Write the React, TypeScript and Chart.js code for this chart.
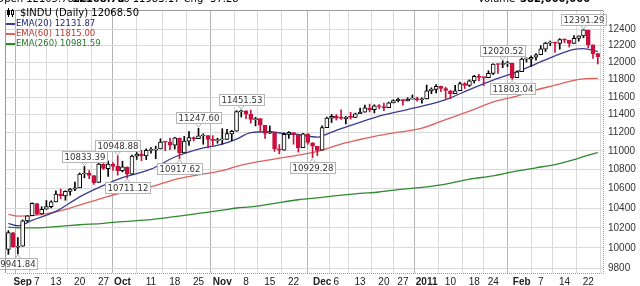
import React, { useEffect, useRef } from 'react';
import { Chart, registerables } from 'chart.js';
Chart.register(...registerables);

const dates = [
  '2010-08-27','2010-08-30','2010-08-31',
  '2010-09-01','2010-09-02','2010-09-03','2010-09-07','2010-09-08','2010-09-09','2010-09-10','2010-09-13','2010-09-14','2010-09-15','2010-09-16','2010-09-17','2010-09-20','2010-09-21','2010-09-22','2010-09-23','2010-09-24','2010-09-27','2010-09-28','2010-09-29','2010-09-30',
  '2010-10-01','2010-10-04','2010-10-05','2010-10-06','2010-10-07','2010-10-08','2010-10-11','2010-10-12','2010-10-13','2010-10-14','2010-10-15','2010-10-18','2010-10-19','2010-10-20','2010-10-21','2010-10-22','2010-10-25','2010-10-26','2010-10-27','2010-10-28','2010-10-29',
  '2010-11-01','2010-11-02','2010-11-03','2010-11-04','2010-11-05','2010-11-08','2010-11-09','2010-11-10','2010-11-11','2010-11-12','2010-11-15','2010-11-16','2010-11-17','2010-11-18','2010-11-19','2010-11-22','2010-11-23','2010-11-24','2010-11-26','2010-11-29','2010-11-30',
  '2010-12-01','2010-12-02','2010-12-03','2010-12-06','2010-12-07','2010-12-08','2010-12-09','2010-12-10','2010-12-13','2010-12-14','2010-12-15','2010-12-16','2010-12-17','2010-12-20','2010-12-21','2010-12-22','2010-12-23','2010-12-27','2010-12-28','2010-12-29','2010-12-30','2010-12-31',
  '2011-01-03','2011-01-04','2011-01-05','2011-01-06','2011-01-07','2011-01-10','2011-01-11','2011-01-12','2011-01-13','2011-01-14','2011-01-18','2011-01-19','2011-01-20','2011-01-21','2011-01-24','2011-01-25','2011-01-26','2011-01-27','2011-01-28','2011-01-31',
  '2011-02-01','2011-02-02','2011-02-03','2011-02-04','2011-02-07','2011-02-08','2011-02-09','2011-02-10','2011-02-11','2011-02-14','2011-02-15','2011-02-16','2011-02-17','2011-02-18','2011-02-22','2011-02-23','2011-02-24'
];

const opens = [
  9986, 10149, 10006,
  10016, 10270, 10321, 10446, 10339, 10388, 10415, 10463, 10543, 10525, 10571, 10595, 10608, 10754, 10761, 10738, 10664, 10860, 10811, 10857, 10836,
  10789, 10828, 10752, 10943, 10967, 10946, 11006, 11009, 11022, 11095, 11095, 11062, 11140, 10980, 11108, 11146, 11134, 11163, 11167, 11128, 11112,
  11121, 11125, 11187, 11216, 11433, 11443, 11405, 11344, 11355, 11281, 11194, 11200, 11023, 11010, 11180, 11201, 11176, 11037, 11186, 11090, 11050,
  11010, 11255, 11361, 11381, 11363, 11356, 11373, 11370, 11410, 11429, 11475, 11456, 11499, 11492, 11480, 11533, 11558, 11570, 11556, 11576, 11583, 11569,
  11577, 11671, 11688, 11722, 11697, 11672, 11638, 11673, 11755, 11732, 11784, 11836, 11823, 11822, 11873, 11979, 11977, 11985, 11990, 11824,
  11893, 12041, 12039, 12063, 12092, 12160, 12232, 12238, 12227, 12272, 12266, 12228, 12287, 12318, 12389, 12211, 12105
];

const highs = [
  10171, 10155, 10101,
  10279, 10321, 10454, 10446, 10413, 10477, 10474, 10578, 10596, 10578, 10603, 10668, 10765, 10833.39, 10791, 10738, 10870, 10865, 10892, 10875, 10948.88,
  10890, 10830, 10957, 10983, 11008, 11024, 11036, 11053, 11133, 11100, 11140, 11150, 11141, 11159, 11213, 11154, 11247.60, 11188, 11167, 11167, 11140,
  11244, 11237, 11226, 11445, 11451.53, 11443, 11452, 11370, 11355, 11281, 11274, 11200, 11070, 11198, 11212, 11201, 11176, 11194, 11186, 11090, 11050,
  11276, 11372, 11402, 11402, 11454, 11382, 11427, 11418, 11474, 11508, 11519, 11512, 11513, 11531, 11542, 11568, 11588, 11570, 11592, 11623, 11599, 11591,
  11737, 11705, 11743, 11725, 11712, 11675, 11734, 11772, 11765, 11797, 11850, 11863, 11823, 11903, 11986, 11984, 12020.52, 12012, 11994, 11903,
  12054, 12056, 12079, 12106, 12201, 12242, 12256, 12245, 12286, 12284, 12266, 12322, 12319, 12391.29, 12389, 12211, 12111
];

const lows = [
  9937, 10008, 9941.84,
  10016, 10259, 10321, 10333, 10339, 10388, 10400, 10463, 10497, 10480, 10531, 10578, 10608, 10713, 10705, 10645, 10664, 10802, 10728, 10791, 10741,
  10775, 10711.12, 10752, 10909, 10896, 10907, 10977, 10917, 11022, 11004, 11013, 11021, 10917.62, 10980, 11060, 11108, 11134, 11073, 11032, 11061, 11085,
  11074, 11125, 11113, 11216, 11374, 11355, 11305, 11275, 11214, 11137, 11189, 10995, 10970, 11010, 11137, 11073, 10988, 11037, 11073, 10929.28, 10950,
  11010, 11255, 11312, 11340, 11348, 11297, 11350, 11367, 11410, 11429, 11431, 11420, 11469, 11444, 11480, 11533, 11543, 11506, 11555, 11576, 11553, 11531,
  11577, 11638, 11647, 11662, 11584, 11580, 11638, 11673, 11697, 11720, 11760, 11788, 11731, 11822, 11859, 11873, 11940, 11953, 11803.04, 11824,
  11893, 12005, 11954, 12029, 12092, 12131, 12202, 12119, 12158, 12236, 12184, 12228, 12255, 12296, 12176, 12048, 11983
];

const closes = [
  10150.65, 10009.73, 10014.72,
  10269.47, 10320.10, 10447.93, 10340.69, 10387.01, 10415.24, 10462.77, 10544.13, 10526.49, 10572.73, 10594.83, 10607.85, 10753.62, 10761.03, 10739.31, 10662.42, 10860.26, 10812.04, 10858.14, 10835.28, 10788.05,
  10829.68, 10751.27, 10944.72, 10967.65, 10948.58, 11006.48, 11010.34, 11020.40, 11096.08, 11094.57, 11062.78, 11143.69, 10978.62, 11107.97, 11146.57, 11132.56, 11164.05, 11169.46, 11126.28, 11113.95, 11118.49,
  11124.62, 11188.72, 11215.13, 11434.84, 11444.08, 11406.84, 11346.75, 11357.04, 11283.10, 11192.58, 11201.97, 11023.50, 11007.88, 11181.23, 11203.55, 11178.58, 11036.37, 11187.28, 11092.00, 11052.49, 11006.02,
  11255.78, 11362.41, 11382.09, 11362.19, 11359.16, 11372.48, 11370.06, 11410.32, 11428.56, 11476.54, 11457.47, 11499.25, 11491.91, 11478.13, 11533.16, 11559.49, 11573.49, 11555.03, 11575.54, 11585.38, 11569.71, 11577.51,
  11670.75, 11691.18, 11722.89, 11697.31, 11674.76, 11637.45, 11671.88, 11755.44, 11731.90, 11787.38, 11837.93, 11825.29, 11822.80, 11871.84, 11980.52, 11977.19, 11985.44, 11989.83, 11823.70, 11891.93,
  12040.16, 12041.97, 12062.26, 12092.15, 12161.63, 12233.15, 12239.89, 12229.29, 12273.26, 12268.19, 12226.64, 12288.17, 12318.14, 12391.25, 12212.79, 12105.78, 12068.50
];

const emaDates = ['2010-08-27','2010-08-31','2010-09-03','2010-09-13','2010-09-20','2010-09-27','2010-10-01','2010-10-11','2010-10-18','2010-10-25','2010-11-01','2010-11-04','2010-11-09','2010-11-15','2010-11-18','2010-11-23','2010-11-30','2010-12-01','2010-12-07','2010-12-13','2010-12-17','2010-12-23','2010-12-31','2011-01-07','2011-01-14','2011-01-24','2011-01-31','2011-02-04','2011-02-10','2011-02-16','2011-02-18','2011-02-24'];
const ema20 = [10245, 10220, 10275, 10365, 10515, 10635, 10715, 10805, 10935, 11020, 11075, 11130, 11200, 11210, 11190, 11180, 11150, 11165, 11245, 11315, 11385, 11435, 11495, 11570, 11685, 11795, 11890, 11985, 12080, 12155, 12165, 12131.87];
const ema60 = [10335, 10318, 10322, 10360, 10430, 10505, 10560, 10620, 10695, 10745, 10790, 10835, 10870, 10905, 10930, 10955, 10995, 11010, 11075, 11125, 11170, 11205, 11250, 11345, 11440, 11545, 11610, 11680, 11735, 11790, 11808, 11815.00];
const ema260 = [10205, 10200, 10198, 10212, 10230, 10245, 10262, 10282, 10312, 10345, 10378, 10400, 10412, 10440, 10463, 10485, 10505, 10510, 10532, 10550, 10565, 10590, 10614, 10648, 10700, 10734, 10786, 10820, 10854, 10906, 10940, 10981.59];

const yTicks = [9800, 10000, 10200, 10400, 10600, 10800, 11000, 11200, 11400, 11600, 11800, 12000, 12200, 12400];
const xTickDates = ['2010-09-01','2010-09-07','2010-09-13','2010-09-20','2010-09-27','2010-10-01','2010-10-11','2010-10-18','2010-10-25','2010-11-01','2010-11-08','2010-11-15','2010-11-22','2010-12-01','2010-12-06','2010-12-13','2010-12-20','2010-12-27','2011-01-03','2011-01-10','2011-01-18','2011-01-24','2011-02-01','2011-02-07','2011-02-14','2011-02-22'];
const xTickLabels = ['Sep','7','13','20','27','Oct','11','18','25','Nov','8','15','22','Dec','6','13','20','27','2011','10','18','24','Feb','7','14','22'];
const monthLabels = ['Sep','Oct','Nov','Dec','2011','Feb'];

const noteDates = ['2010-08-31','2010-09-21','2010-09-30','2010-10-04','2010-10-19','2010-10-25','2010-11-05','2010-11-29','2011-01-26','2011-01-28','2011-02-18'];
const noteValues = [9941.84, 10833.39, 10948.88, 10711.12, 10917.62, 11247.60, 11451.53, 10929.28, 12020.52, 11803.04, 12391.29];
const noteSides = ['below','above','above','below','below','above','above','below','above','below','above'];

const legendTitle = '$INDU (Daily) 12068.50';
const legendNames = ['EMA(20) 12131.87', 'EMA(60) 11815.00', 'EMA(260) 10981.59'];
const headerParts = ['24-Feb-2011 Open 12105.78 Hi', '12168.75', 'Lo 11983.17 Chg -37.28', 'Volume', '382,000,000'];

const RED = '#c8103c';
const EMA_COLORS = ['#3b3b8f', '#e0605a', '#2f8a2f'];
const EMA_TEXT = ['#1f2670', '#c43a30', '#2a7a2a'];

function candleColor(i: number) {
  const prev = i === 0 ? opens[0] : closes[i - 1];
  return closes[i] >= prev ? '#000000' : RED;
}
function candleFill(i: number) {
  return closes[i] > opens[i] ? '#ffffff' : candleColor(i);
}

const overlayPlugin = {
  id: 'overlay',
  afterDatasetsDraw(chart: any) {
    const { ctx, scales } = chart;
    const x = scales.x, y = scales.y;
    ctx.save();
    ctx.font = '9.5px "Liberation Sans Narrow", "DejaVu Sans Condensed", "Liberation Sans", Arial';
    ctx.lineWidth = 1;
    noteDates.forEach((d, k) => {
      const px = x.getPixelForValue(dates.indexOf(d));
      const py = y.getPixelForValue(noteValues[k]);
      const text = noteValues[k].toFixed(2);
      const w = Math.round(ctx.measureText(text).width) + 4;
      const h = 11;
      const bx = Math.round(px - w / 2) + 0.5;
      const by = noteSides[k] === 'above' ? Math.round(py - 5 - h) + 0.5 : Math.round(py + 4) + 0.5;
      ctx.fillStyle = '#ffffff';
      ctx.fillRect(bx, by, w, h);
      ctx.strokeStyle = '#b4b4b4';
      ctx.strokeRect(bx, by, w, h);
      ctx.beginPath();
      if (noteSides[k] === 'above') {
        ctx.moveTo(px - 3, by + h);
        ctx.lineTo(px, py - 1);
        ctx.lineTo(px + 3, by + h);
      } else {
        ctx.moveTo(px - 3, by);
        ctx.lineTo(px, py + 1);
        ctx.lineTo(px + 3, by);
      }
      ctx.stroke();
      ctx.fillStyle = '#333333';
      ctx.textAlign = 'center';
      ctx.textBaseline = 'middle';
      ctx.fillText(text, bx + w / 2, by + h / 2 + 0.5);
    });
    ctx.restore();
  },
  afterDraw(chart: any) {
    const { ctx, chartArea: a } = chart;
    ctx.save();
    // frame
    ctx.lineWidth = 1;
    ctx.strokeStyle = '#9a9a9a';
    ctx.beginPath();
    ctx.moveTo(a.left - 0.5, a.bottom);
    ctx.lineTo(a.left - 0.5, a.top - 0.5);
    ctx.lineTo(a.right, a.top - 0.5);
    ctx.stroke();
    ctx.setLineDash([1, 1]);
    ctx.beginPath();
    ctx.moveTo(a.right + 0.5, a.top);
    ctx.lineTo(a.right + 0.5, a.bottom + 0.5);
    ctx.lineTo(a.left, a.bottom + 0.5);
    ctx.stroke();
    ctx.setLineDash([]);
    // header (cut at top)
    ctx.fillStyle = '#000';
    ctx.textBaseline = 'alphabetic';
    ctx.textAlign = 'left';
    ctx.font = '10px "DejaVu Sans"';
    ctx.fillText(headerParts[0], -70, 2);
    ctx.font = 'bold 10px "DejaVu Sans"';
    ctx.fillText(headerParts[1], 72, 2);
    ctx.font = '10px "DejaVu Sans"';
    ctx.fillText(headerParts[2], 118, 2);
    ctx.fillText(headerParts[3], 478, 2);
    ctx.font = 'bold 10px "DejaVu Sans"';
    ctx.fillText(headerParts[4], 520, 2);
    // legend
    ctx.fillStyle = '#000';
    ctx.fillRect(8, 8, 1, 9);
    ctx.fillRect(7, 10, 3, 5);
    ctx.fillRect(12, 9, 1, 8);
    ctx.strokeStyle = '#000';
    ctx.strokeRect(11.5, 10.5, 2, 4);
    ctx.fillStyle = '#ffffff';
    ctx.fillRect(12, 11, 1, 3);
    ctx.fillStyle = '#000';
    ctx.font = '10px "DejaVu Sans"';
    ctx.textBaseline = 'middle';
    ctx.fillText(legendTitle, 20, 13);
    ctx.font = '8.5px "DejaVu Sans"';
    legendNames.forEach((t, k) => {
      const yc = 23.5 + k * 10;
      ctx.fillStyle = EMA_COLORS[k];
      ctx.fillRect(6, Math.round(yc) - 1, 9, 2);
      ctx.fillStyle = EMA_TEXT[k];
      ctx.fillText(t, 16, yc);
    });
    ctx.restore();
  }
};

export default function App() {
  const ref = useRef<HTMLCanvasElement | null>(null);
  useEffect(() => {
    document.body.style.margin = '0';
    const canvas = ref.current;
    if (!canvas) return;
    const idxOf = (d: string) => dates.indexOf(d);
    const bodyData = dates.map((_, i) => ({ x: i, y: [Math.min(opens[i], closes[i]), Math.max(opens[i], closes[i])] }));
    const wickData = dates.map((_, i) => ({ x: i, y: [lows[i], highs[i]] }));
    const emaLine = (vals: number[], k: number) => ({
      type: 'line',
      data: emaDates.map((d, j) => ({ x: idxOf(d), y: vals[j] })),
      borderColor: EMA_COLORS[k],
      borderWidth: 1.3,
      pointRadius: 0,
      cubicInterpolationMode: 'monotone',
      fill: false,
      order: 3 + k,
    });
    const tickIdx = xTickDates.map(idxOf);
    const chart = new Chart(canvas, {
      type: 'bar',
      data: {
        datasets: [
          {
            type: 'bar',
            data: bodyData,
            backgroundColor: dates.map((_, i) => candleFill(i)),
            borderColor: dates.map((_, i) => candleColor(i)),
            borderWidth: 1,
            borderSkipped: false,
            barThickness: 4,
            minBarLength: 1,
            grouped: false,
            order: 0,
          },
          {
            type: 'bar',
            data: wickData,
            backgroundColor: dates.map((_, i) => candleColor(i)),
            borderWidth: 0,
            barThickness: 1,
            grouped: false,
            order: 1,
          },
          emaLine(ema20, 0),
          emaLine(ema60, 1),
          emaLine(ema260, 2),
        ] as any,
      },
      options: {
        animation: false,
        responsive: false,
        devicePixelRatio: 1,
        layout: { padding: { left: 6, top: 5, right: 0, bottom: 0 } },
        plugins: { legend: { display: false }, tooltip: { enabled: false } },
        scales: {
          x: {
            type: 'linear',
            min: -0.5,
            max: 125.1,
            offset: false,
            afterBuildTicks: (s: any) => { s.ticks = tickIdx.map((v) => ({ value: v })); },
            afterFit: (s: any) => { s.height = 13; },
            border: { display: false },
            grid: {
              drawTicks: false,
              color: (c: any) => (c.tick && monthLabels.includes(xTickLabels[tickIdx.indexOf(c.tick.value)]) ? '#b4b4b4' : '#dadada'),
              lineWidth: 1,
            },
            ticks: {
              autoSkip: false,
              maxRotation: 0,
              padding: 3,
              color: '#222',
              font: (c: any) => ({ family: '"Liberation Sans", Arial', size: 10, weight: monthLabels.includes(xTickLabels[c.index]) ? 'bold' : 'normal' }),
              callback: (v: any) => { const k = tickIdx.indexOf(v); return k >= 0 ? xTickLabels[k] : ''; },
            },
          },
          y: {
            type: 'logarithmic',
            position: 'right',
            min: 9756,
            max: 12624,
            afterBuildTicks: (s: any) => { s.ticks = yTicks.map((v) => ({ value: v })); },
            afterFit: (s: any) => { s.width = 37; },
            border: { display: false },
            grid: { drawTicks: false, color: '#dadada', lineWidth: 1 },
            ticks: {
              padding: 5,
              color: '#333',
              font: { family: '"Liberation Sans", Arial', size: 10 },
              callback: (v: any) => String(v),
            },
          },
        },
      } as any,
      plugins: [overlayPlugin],
    });
    return () => chart.destroy();
  }, []);
  return (
    <div style={{ width: 640, height: 286, position: 'relative', background: '#fff' }}>
      <canvas ref={ref} width={640} height={286} style={{ display: 'block', width: 640, height: 286 }} />
    </div>
  );
}
